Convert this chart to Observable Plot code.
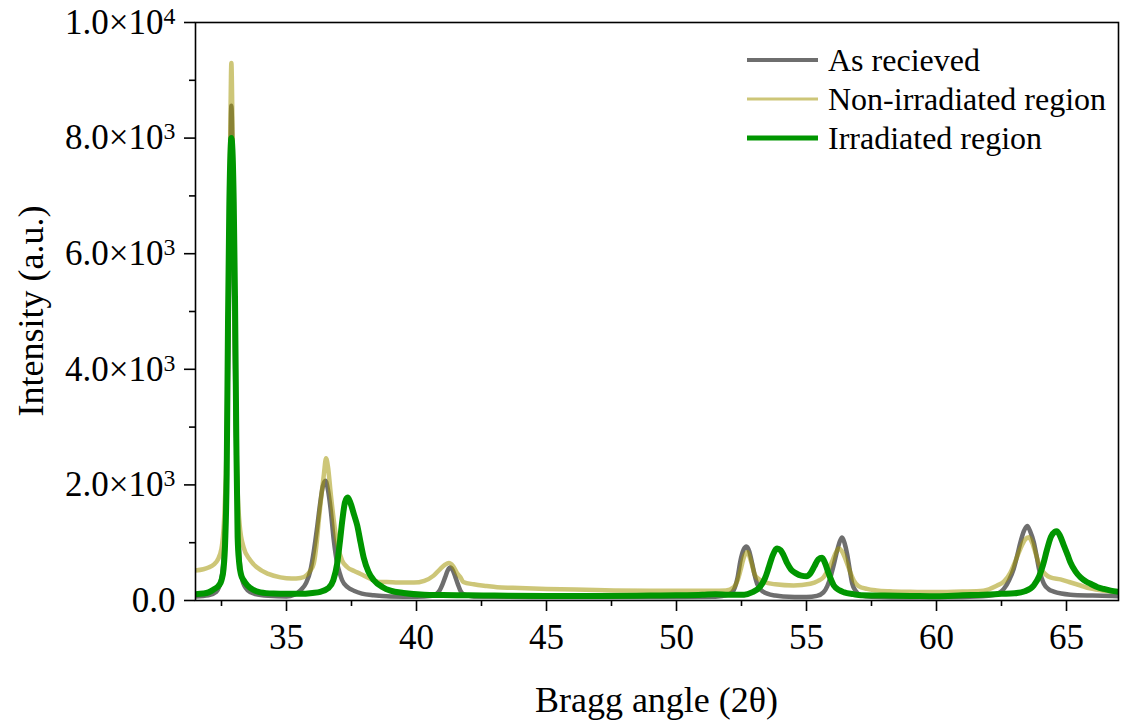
<!DOCTYPE html>
<html>
<head>
<meta charset="utf-8">
<script src="https://cdn.jsdelivr.net/npm/d3@7"></script>
<script src="https://cdn.jsdelivr.net/npm/@observablehq/plot@0.6"></script>
<style>
  html, body { margin: 0; padding: 0; background: #fff; }
  #chart { width: 1122px; height: 723px; }
</style>
</head>
<body>
<div id="chart"></div>
<script>
// ---------- axes ----------
const xDomain = [31.5, 67];
const yDomain = [0, 10000];
const xMajorTicks = [35, 40, 45, 50, 55, 60, 65];
const xMinorTicks = [32.5, 37.5, 42.5, 47.5, 52.5, 57.5, 62.5];
const yMajorTicks = [0, 2000, 4000, 6000, 8000, 10000];
const yMinorTicks = [1000, 3000, 5000, 7000, 9000];
const yTickLabels = ["0.0", "2.0×10^3", "4.0×10^3", "6.0×10^3", "8.0×10^3", "1.0×10^4"];
const xTitle = "Bragg angle (2θ)";
const yTitle = "Intensity (a.u.)";
const seriesNames = ["As recieved", "Non-irradiated region", "Irradiated region"];

// ---------- As recieved ----------
const asAngle = [31.5, 32.0, 32.3, 32.5, 32.6, 32.7, 32.78, 32.84, 32.88, 32.92, 32.98, 33.05, 33.12, 33.2, 33.3, 33.5, 33.8, 34.3, 35.0, 35.3, 35.55, 35.75, 35.92, 36.05, 36.18, 36.3, 36.4, 36.5, 36.6, 36.69, 36.82, 36.95, 37.05, 37.14, 37.35, 37.59, 37.9, 38.35, 39.0, 40.0, 40.6, 40.85, 41.0, 41.1, 41.2, 41.3, 41.4, 41.5, 41.6, 41.69, 41.85, 42.2, 45.0, 50.0, 51.5, 52.0, 52.2, 52.35, 52.46, 52.58, 52.69, 52.8, 52.91, 53.0, 53.1, 53.25, 53.49, 53.8, 54.1, 55.0, 55.4, 55.65, 55.8, 55.92, 56.05, 56.18, 56.28, 56.37, 56.46, 56.56, 56.66, 56.76, 56.9, 57.08, 57.5, 59.0, 61.0, 62.0, 62.4, 62.59, 62.8, 62.97, 63.1, 63.23, 63.36, 63.49, 63.6, 63.74, 63.85, 63.94, 64.05, 64.13, 64.3, 64.51, 64.8, 65.15, 66.0, 67.0];
const asIntensity = [70, 90, 150, 400, 900, 2500, 5000, 7500, 8560, 7800, 5500, 3000, 1500, 700, 350, 180, 110, 80, 70, 100, 180, 300, 520, 850, 1270, 1700, 1980, 2070, 1900, 1610, 1040, 640, 470, 350, 230, 170, 120, 90, 70, 65, 80, 150, 280, 400, 520, 570, 520, 400, 270, 170, 100, 70, 60, 60, 65, 100, 180, 400, 690, 880, 935, 850, 640, 450, 290, 180, 120, 85, 70, 60, 80, 140, 250, 400, 620, 865, 1020, 1090, 1000, 810, 540, 290, 160, 90, 65, 55, 60, 80, 130, 200, 360, 550, 770, 1010, 1200, 1290, 1200, 1010, 770, 550, 380, 290, 200, 155, 120, 100, 85, 75];

// ---------- Non-irradiated region ----------
const nonAngle = [31.5, 31.8, 32.0, 32.2, 32.35, 32.5, 32.6, 32.7, 32.78, 32.84, 32.88, 32.92, 32.98, 33.05, 33.12, 33.2, 33.35, 33.6, 33.87, 34.3, 34.77, 35.2, 35.54, 35.8, 35.92, 36.05, 36.15, 36.24, 36.35, 36.44, 36.52, 36.6, 36.69, 36.82, 36.95, 37.14, 37.33, 37.6, 37.85, 38.2, 38.6, 38.85, 39.3, 39.9, 40.3, 40.66, 40.9, 41.1, 41.24, 41.4, 41.55, 41.69, 41.8, 42.2, 42.7, 43.1, 43.7, 45.0, 46.5, 47.6, 49.0, 50.0, 51.4, 51.9, 52.2, 52.35, 52.46, 52.6, 52.73, 52.85, 53.03, 53.2, 53.36, 53.8, 54.5, 55.15, 55.45, 55.65, 55.85, 56.0, 56.12, 56.24, 56.35, 56.46, 56.56, 56.7, 56.82, 57.0, 57.33, 57.7, 58.2, 59.0, 59.9, 61.0, 61.8, 62.33, 62.6, 62.85, 63.05, 63.23, 63.4, 63.55, 63.68, 63.8, 63.93, 64.06, 64.2, 64.38, 64.77, 65.1, 65.54, 65.9, 66.43, 67.0];
const nonIntensity = [520, 540, 570, 620, 700, 900, 1400, 2800, 5500, 8200, 9300, 8300, 5800, 3200, 1900, 1300, 920, 700, 570, 460, 400, 380, 390, 450, 520, 640, 950, 1380, 1850, 2190, 2460, 2300, 1900, 1380, 990, 690, 580, 510, 460, 380, 320, 320, 310, 310, 340, 430, 540, 620, 650, 600, 480, 400, 320, 280, 250, 230, 220, 200, 185, 175, 170, 170, 170, 175, 230, 350, 520, 760, 840, 700, 430, 360, 320, 280, 260, 290, 340, 400, 550, 690, 820, 900, 860, 760, 640, 470, 345, 250, 200, 175, 160, 150, 145, 155, 170, 260, 330, 490, 700, 900, 1050, 1095, 1000, 835, 650, 520, 450, 400, 365, 320, 260, 210, 170, 150];

// ---------- Irradiated region ----------
const irrAngle = [31.5, 31.8, 32.0, 32.2, 32.4, 32.5, 32.58, 32.64, 32.7, 32.75, 32.8, 32.85, 32.88, 32.92, 32.97, 33.02, 33.07, 33.12, 33.18, 33.25, 33.35, 33.5, 33.7, 34.0, 34.5, 35.0, 35.5, 36.0, 36.3, 36.6, 36.8, 36.95, 37.05, 37.15, 37.25, 37.35, 37.45, 37.6, 37.72, 37.85, 37.97, 38.15, 38.36, 38.7, 39.0, 39.5, 40.3, 41.0, 42.0, 43.0, 45.0, 47.0, 49.0, 50.0, 51.0, 51.5, 52.0, 52.6, 52.9, 53.2, 53.4, 53.55, 53.7, 53.87, 54.0, 54.1, 54.25, 54.4, 54.6, 54.8, 55.0, 55.15, 55.3, 55.45, 55.6, 55.72, 55.85, 56.05, 56.25, 56.45, 56.8, 57.1, 58.0, 59.0, 60.0, 61.0, 61.8, 62.5, 63.0, 63.4, 63.74, 63.95, 64.1, 64.25, 64.4, 64.55, 64.62, 64.75, 64.9, 65.05, 65.15, 65.35, 65.54, 65.75, 65.92, 66.2, 66.43, 66.7, 67.0];
const irrIntensity = [110, 120, 140, 190, 260, 350, 550, 1000, 2200, 4800, 6800, 7800, 8000, 7800, 6900, 5200, 2800, 1100, 650, 450, 350, 260, 190, 140, 120, 115, 115, 130, 150, 210, 350, 640, 1000, 1400, 1700, 1780, 1700, 1480, 1300, 1000, 740, 500, 350, 230, 170, 130, 100, 95, 90, 85, 80, 80, 85, 90, 100, 110, 100, 100, 140, 230, 380, 575, 780, 900, 870, 800, 650, 540, 470, 430, 420, 470, 590, 710, 740, 640, 470, 260, 180, 140, 110, 90, 85, 80, 75, 90, 100, 115, 125, 160, 260, 420, 620, 880, 1100, 1190, 1200, 1120, 950, 780, 660, 500, 400, 330, 290, 230, 200, 170, 150];

const toRows = (angles, values) => angles.map((a, i) => ({angle: a, intensity: values[i]}));
const asRows = toRows(asAngle, asIntensity);
const nonRows = toRows(nonAngle, nonIntensity);
const irrRows = toRows(irrAngle, irrIntensity);

const styles = [
  {stroke: "#6e6e6e", opacity: 1, width: 4.5, legendWidth: 4},
  {stroke: "rgb(162,149,5)", opacity: 0.54, width: 4.5, legendWidth: 3},
  {stroke: "#009600", opacity: 1, width: 6, legendWidth: 5}
];

const serif = "'Liberation Serif','Times New Roman',serif";
const W = 1122, H = 723;
const M = {left: 195, right: 4, top: 22, bottom: 123};

const plot = Plot.plot({
  width: W, height: H,
  marginLeft: M.left, marginRight: M.right, marginTop: M.top, marginBottom: M.bottom,
  style: {fontFamily: serif, fontSize: "35px", color: "#000", background: "#fff"},
  x: {domain: xDomain},
  y: {domain: yDomain},
  marks: [
    Plot.line(asRows, {x: "angle", y: "intensity", stroke: styles[0].stroke, strokeWidth: styles[0].width, curve: "monotone-x", clip: true}),
    Plot.line(nonRows, {x: "angle", y: "intensity", stroke: styles[1].stroke, strokeOpacity: styles[1].opacity, strokeWidth: styles[1].width, curve: "monotone-x", clip: true}),
    Plot.line(irrRows, {x: "angle", y: "intensity", stroke: styles[2].stroke, strokeWidth: styles[2].width, curve: "monotone-x", clip: true}),
    Plot.frame({stroke: "#000", strokeWidth: 1.6}),
    Plot.axisX({ticks: xMajorTicks, tickSize: 11, tickPadding: 13, strokeWidth: 1.6, tickFormat: d => String(d), label: null}),
    Plot.axisX({ticks: xMinorTicks, tickSize: 6, strokeWidth: 1.6, tickFormat: () => "", label: null}),
    Plot.axisY({ticks: yMajorTicks, tickSize: 11, tickPadding: 9, strokeWidth: 1.6, tickFormat: d => yTickLabels[yMajorTicks.indexOf(d)], label: null}),
    Plot.axisY({ticks: yMinorTicks, tickSize: 6, strokeWidth: 1.6, tickFormat: () => "", label: null})
  ]
});

document.getElementById("chart").appendChild(plot);

const svg = d3.select(plot);

// superscripts on y tick labels
svg.selectAll('g[aria-label="y-axis tick label"] text').each(function() {
  const t = this.textContent;
  const parts = t.split("^");
  if (parts.length === 2) {
    const el = d3.select(this);
    el.text(parts[0]);
    el.append("tspan").attr("dy", "-0.42em").attr("font-size", "0.68em").text(parts[1]);
  }
});

// axis titles
svg.append("text")
  .attr("x", (M.left + W - M.right) / 2)
  .attr("y", 712)
  .attr("text-anchor", "middle")
  .attr("font-family", serif)
  .attr("font-size", 36)
  .attr("fill", "#000")
  .text(xTitle);

svg.append("text")
  .attr("transform", `translate(43,${(M.top + H - M.bottom) / 2}) rotate(-90)`)
  .attr("text-anchor", "middle")
  .attr("font-family", serif)
  .attr("font-size", 36)
  .attr("fill", "#000")
  .text(yTitle);

// legend
const lg = svg.append("g").attr("class", "legend").attr("text-anchor", "start");
seriesNames.forEach((name, i) => {
  const y = 60 + i * 39;
  lg.append("line")
    .attr("x1", 747).attr("x2", 818).attr("y1", y).attr("y2", y)
    .attr("stroke", styles[i].stroke)
    .attr("stroke-opacity", styles[i].opacity)
    .attr("stroke-width", styles[i].legendWidth);
  lg.append("text")
    .attr("x", 828).attr("y", y + 11)
    .attr("text-anchor", "start")
    .attr("font-family", serif)
    .attr("font-size", 32)
    .attr("fill", "#000")
    .text(name);
});
</script>
</body>
</html>
